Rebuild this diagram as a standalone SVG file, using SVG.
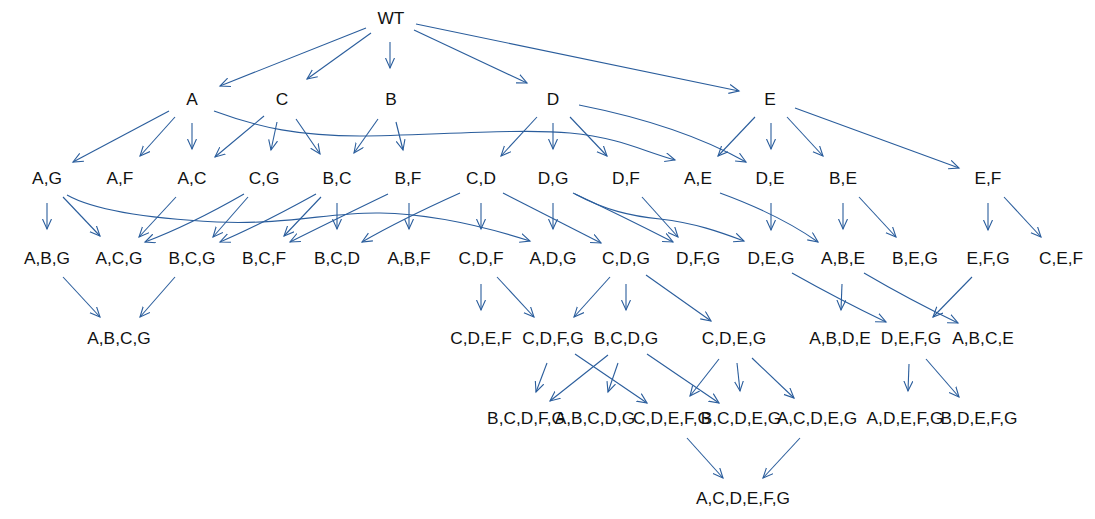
<svg xmlns="http://www.w3.org/2000/svg" width="1095" height="519" viewBox="0 0 1095 519">
<style>
.e{fill:none;stroke:#2a5d9c;stroke-width:1.1;marker-end:url(#arr)}
text{font-family:"Liberation Sans",Arial,sans-serif;font-size:17.3px;fill:#111;text-anchor:middle}
</style>
<defs>
<marker id="arr" markerWidth="12" markerHeight="12" refX="10" refY="5" orient="auto" markerUnits="userSpaceOnUse">
<path d="M0,0.5 L10,5 L0,9.5" fill="none" stroke="#2a5d9c" stroke-width="1.1"/>
</marker>
</defs>
<rect width="1095" height="519" fill="#fff"/>
<g id="connectors">
<path class="e" d="M366,28 L220,86"/>
<path class="e" d="M371,33 L307,79"/>
<path class="e" d="M390,42 L390,68"/>
<path class="e" d="M414,30 L527,83"/>
<path class="e" d="M416,24 L739,91"/>
<path class="e" d="M169,111 L73,162"/>
<path class="e" d="M175,117 L140,156"/>
<path class="e" d="M192,123 L192,149"/>
<path class="e" d="M214,111 C260,128 300,136 360,136 S520,128 570,133 S640,150 675,160"/>
<path class="e" d="M264,116 L215,157"/>
<path class="e" d="M277,122 L271,150"/>
<path class="e" d="M296,119 L320,154"/>
<path class="e" d="M378,119 L354,153"/>
<path class="e" d="M396,122 L403,150"/>
<path class="e" d="M537,117 L501,156"/>
<path class="e" d="M553,123 L553,149"/>
<path class="e" d="M570,117 L607,156"/>
<path class="e" d="M579,105 Q680,125 746,162"/>
<path class="e" d="M755,117 L718,156"/>
<path class="e" d="M771,123 L771,149"/>
<path class="e" d="M787,117 L823,156"/>
<path class="e" d="M795,108 L959,168"/>
<path class="e" d="M47,203 L47,229"/>
<path class="e" d="M63,197 L100,236"/>
<path class="e" d="M67,195 C90,208 140,218 217,222 C290,225 330,212 380,213 C430,214 480,225 530,241"/>
<path class="e" d="M176,197 L139,237"/>
<path class="e" d="M244,194 Q190,225 145,242"/>
<path class="e" d="M248,197 L213,237"/>
<path class="e" d="M316,194 Q260,225 220,242"/>
<path class="e" d="M321,197 L284,236"/>
<path class="e" d="M337,203 L337,229"/>
<path class="e" d="M388,194 Q330,222 290,242"/>
<path class="e" d="M409,203 L409,229"/>
<path class="e" d="M460,193 Q400,220 362,242"/>
<path class="e" d="M481,203 L481,229"/>
<path class="e" d="M503,193 L601,243"/>
<path class="e" d="M553,203 L553,229"/>
<path class="e" d="M573,193 Q620,215 673,242"/>
<path class="e" d="M575,194 C605,210 630,216 660,219 C695,223 720,232 744,241"/>
<path class="e" d="M642,197 L678,237"/>
<path class="e" d="M720,193 Q780,215 818,242"/>
<path class="e" d="M771,203 L771,230"/>
<path class="e" d="M843,203 L843,229"/>
<path class="e" d="M859,197 L896,237"/>
<path class="e" d="M988,203 L988,230"/>
<path class="e" d="M1004,197 L1041,237"/>
<path class="e" d="M63,277 L100,317"/>
<path class="e" d="M175,277 L140,317"/>
<path class="e" d="M481,284 L481,310"/>
<path class="e" d="M497,277 L534,317"/>
<path class="e" d="M610,277 L574,317"/>
<path class="e" d="M626,284 L626,310"/>
<path class="e" d="M646,275 L711,321"/>
<path class="e" d="M792,273 Q840,300 886,322"/>
<path class="e" d="M842,284 L841,310"/>
<path class="e" d="M864,273 Q910,300 958,323"/>
<path class="e" d="M972,277 L933,317"/>
<path class="e" d="M547,363 L536,392"/>
<path class="e" d="M608,355 L550,401"/>
<path class="e" d="M618,363 L608,392"/>
<path class="e" d="M575,354 L647,403"/>
<path class="e" d="M647,354 L719,403"/>
<path class="e" d="M719,359 L690,396"/>
<path class="e" d="M737,363 L740,391"/>
<path class="e" d="M752,358 L794,398"/>
<path class="e" d="M909,364 L908,391"/>
<path class="e" d="M926,359 L959,397"/>
<path class="e" d="M687,438 L723,478"/>
<path class="e" d="M800,438 L763,478"/>
</g>
<g id="WT"><text x="391" y="24">WT</text></g>
<g id="A"><text x="192" y="105">A</text></g>
<g id="C"><text x="282" y="105">C</text></g>
<g id="B"><text x="391" y="105">B</text></g>
<g id="D"><text x="553" y="105">D</text></g>
<g id="E"><text x="770" y="105">E</text></g>
<g id="A_G"><text x="47" y="184">A,G</text></g>
<g id="A_F"><text x="120" y="184">A,F</text></g>
<g id="A_C"><text x="192" y="184">A,C</text></g>
<g id="C_G"><text x="264" y="184">C,G</text></g>
<g id="B_C"><text x="337" y="184">B,C</text></g>
<g id="B_F"><text x="408" y="184">B,F</text></g>
<g id="C_D"><text x="481" y="184">C,D</text></g>
<g id="D_G"><text x="553" y="184">D,G</text></g>
<g id="D_F"><text x="626" y="184">D,F</text></g>
<g id="A_E"><text x="698" y="184">A,E</text></g>
<g id="D_E"><text x="770" y="184">D,E</text></g>
<g id="B_E"><text x="843" y="184">B,E</text></g>
<g id="E_F"><text x="988" y="184">E,F</text></g>
<g id="A_B_G"><text x="47" y="264">A,B,G</text></g>
<g id="A_C_G"><text x="119" y="264">A,C,G</text></g>
<g id="B_C_G"><text x="192" y="264">B,C,G</text></g>
<g id="B_C_F"><text x="264" y="264">B,C,F</text></g>
<g id="B_C_D"><text x="337" y="264">B,C,D</text></g>
<g id="A_B_F"><text x="409" y="264">A,B,F</text></g>
<g id="C_D_F"><text x="481" y="264">C,D,F</text></g>
<g id="A_D_G"><text x="553" y="264">A,D,G</text></g>
<g id="C_D_G"><text x="626" y="264">C,D,G</text></g>
<g id="D_F_G"><text x="698" y="264">D,F,G</text></g>
<g id="D_E_G"><text x="771" y="264">D,E,G</text></g>
<g id="A_B_E"><text x="843" y="264">A,B,E</text></g>
<g id="B_E_G"><text x="915" y="264">B,E,G</text></g>
<g id="E_F_G"><text x="988" y="264">E,F,G</text></g>
<g id="C_E_F"><text x="1061" y="264">C,E,F</text></g>
<g id="A_B_C_G"><text x="119" y="344">A,B,C,G</text></g>
<g id="C_D_E_F"><text x="481" y="344">C,D,E,F</text></g>
<g id="C_D_F_G"><text x="553" y="344">C,D,F,G</text></g>
<g id="B_C_D_G"><text x="626" y="344">B,C,D,G</text></g>
<g id="C_D_E_G"><text x="734" y="344">C,D,E,G</text></g>
<g id="A_B_D_E"><text x="840" y="344">A,B,D,E</text></g>
<g id="D_E_F_G"><text x="911" y="344">D,E,F,G</text></g>
<g id="A_B_C_E"><text x="983" y="344">A,B,C,E</text></g>
<g id="B_C_D_F_G"><text x="526" y="424">B,C,D,F,G</text></g>
<g id="A_B_C_D_G"><text x="595" y="424">A,B,C,D,G</text></g>
<g id="C_D_E_F_G"><text x="672" y="424">C,D,E,F,G</text></g>
<g id="B_C_D_E_G"><text x="741" y="424">B,C,D,E,G</text></g>
<g id="A_C_D_E_G"><text x="817" y="424">A,C,D,E,G</text></g>
<g id="A_D_E_F_G"><text x="905" y="424">A,D,E,F,G</text></g>
<g id="B_D_E_F_G"><text x="979" y="424">B,D,E,F,G</text></g>
<g id="A_C_D_E_F_G"><text x="743" y="504">A,C,D,E,F,G</text></g>
</svg>
